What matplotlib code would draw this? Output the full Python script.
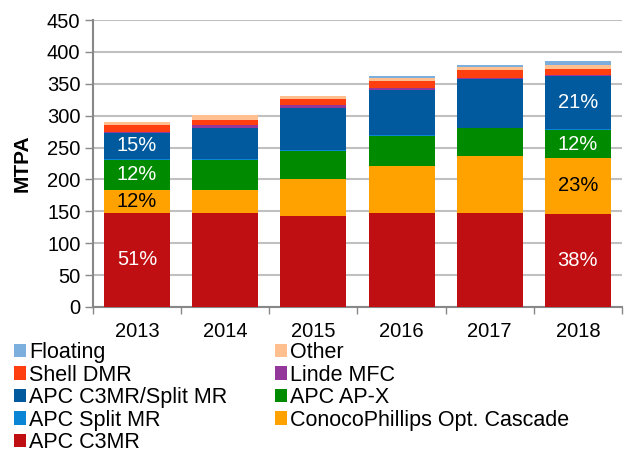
import matplotlib
matplotlib.use("Agg")
import matplotlib.pyplot as plt
import numpy as np

plt.rcParams['font.family'] = ['Liberation Sans', 'DejaVu Sans']

years = ["2013", "2014", "2015", "2016", "2017", "2018"]
apc_c3mr = [148, 148, 143, 148, 148, 146]
conoco = [36, 36, 57, 73, 88, 87.5]
apc_apx = [47, 47, 45, 47, 44, 44]
apc_split_mr = [1, 1, 1, 1, 1, 1]
apc_c3mr_split = [41.5, 49, 66, 72, 76.5, 83]
linde_mfc = [1, 5, 5, 2, 2, 2]
shell_dmr = [11, 7, 9.4, 11.5, 11.4, 9.4]
other = [4.6, 7.3, 5, 4, 4.7, 6.3]
floating = [0, 0, 0, 3, 4, 6]

series = [
    ("APC C3MR", apc_c3mr, "#C00F12"),
    ("ConocoPhillips Opt. Cascade", conoco, "#FFA200"),
    ("APC AP-X", apc_apx, "#008A00"),
    ("APC Split MR", apc_split_mr, "#0A85D6"),
    ("APC C3MR/Split MR", apc_c3mr_split, "#025A9E"),
    ("Linde MFC", linde_mfc, "#93389A"),
    ("Shell DMR", shell_dmr, "#FF3F0F"),
    ("Other", other, "#FFBF8F"),
    ("Floating", floating, "#7CAFDD"),
]

# percentage labels: (year index, series name, text, color)
pct_labels = [
    (0, "APC C3MR", "51%", "white"),
    (0, "ConocoPhillips Opt. Cascade", "12%", "black"),
    (0, "APC AP-X", "12%", "white"),
    (0, "APC C3MR/Split MR", "15%", "white"),
    (5, "APC C3MR", "38%", "white"),
    (5, "ConocoPhillips Opt. Cascade", "23%", "black"),
    (5, "APC AP-X", "12%", "white"),
    (5, "APC C3MR/Split MR", "21%", "white"),
]

W, H = 626, 457
fig = plt.figure(figsize=(W / 100, H / 100), dpi=100)
ax = fig.add_axes([93 / W, (H - 307) / H, (622 - 93) / W, (307 - 20) / H])

x = np.arange(len(years))
bottom = np.zeros(len(years))
bars = {}
mids = {}
for name, vals, col in series:
    vals = np.array(vals, dtype=float)
    b = ax.bar(x, vals, 0.75, bottom=bottom, color=col, label=name,
               edgecolor='none', zorder=3)
    bars[name] = b
    mids[name] = bottom + vals / 2
    bottom = bottom + vals

for i, name, txt, col in pct_labels:
    ax.text(x[i], mids[name][i], txt, ha='center', va='center',
            color=col, fontsize=14.5, zorder=4)

ax.set_ylim(0, 450)
ax.set_xlim(-0.5, len(years) - 0.5)
ax.set_yticks(np.arange(0, 451, 50))
ax.set_xticks(x)
ax.set_xticklabels(years)
ax.set_xticks(np.arange(-0.5, len(years), 1.0), minor=True)
ax.tick_params(axis='x', which='major', length=0, labelsize=14.5, pad=11)
ax.tick_params(axis='x', which='minor', length=5, color='#888888', width=1)
ax.tick_params(axis='y', length=6, color='#888888', width=1, labelsize=14.5, pad=3)
ax.yaxis.grid(True, color='#C0C0C0', linewidth=1.5, zorder=0)
ax.set_axisbelow(True)
for s in ['top', 'right']:
    ax.spines[s].set_visible(False)
for s in ['left', 'bottom']:
    ax.spines[s].set_color('#888888')
    ax.spines[s].set_linewidth(1.5)
ax.set_ylabel("MTPA", fontsize=15, fontweight='bold', labelpad=11)

col1 = ["Floating", "Shell DMR", "APC C3MR/Split MR", "APC Split MR", "APC C3MR"]
col2 = ["Other", "Linde MFC", "APC AP-X", "ConocoPhillips Opt. Cascade"]
leg_kw = dict(loc='upper left', frameon=False, fontsize=15.5, handlelength=0.58,
              handleheight=0.58, handletextpad=0.12, labelspacing=0.07,
              borderaxespad=0, borderpad=0)
leg1 = fig.legend([bars[n] for n in col1], col1,
                  bbox_to_anchor=(14 / W, 1 - 342 / H), **leg_kw)
leg2 = fig.legend([bars[n] for n in col2], col2,
                  bbox_to_anchor=(275 / W, 1 - 342 / H), **leg_kw)

fig.savefig("out.png", dpi=100)
